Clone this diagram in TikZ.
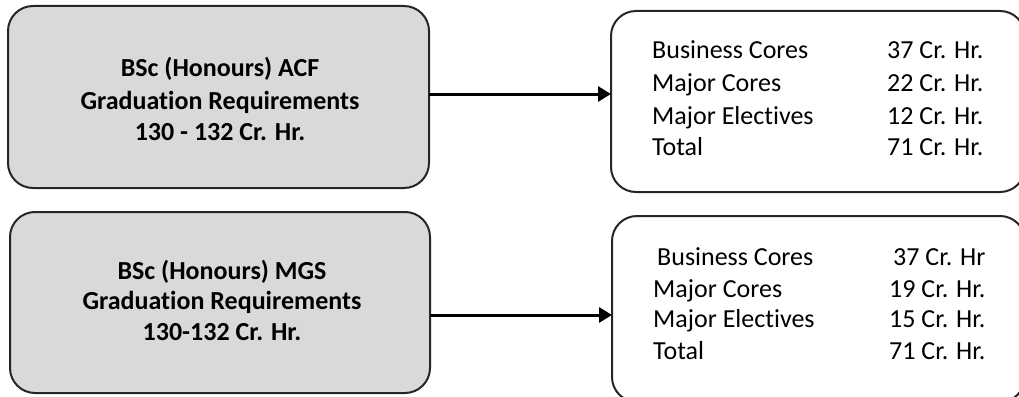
\documentclass[tikz,border=0pt]{standalone}
\usepackage{fontspec}
\setmainfont{Carlito}[Ligatures=NoCommon]
\usetikzlibrary{arrows.meta}
\definecolor{boxgray}{HTML}{D9D9D9}
\definecolor{edge}{HTML}{262626}
\tikzset{
  titlebox/.style={draw=edge, line width=2pt, fill=boxgray, rounded corners=25pt, inner sep=0pt, outer sep=0pt},
  listbox/.style={draw=edge, line width=2pt, fill=white, rounded corners=25pt, inner sep=0pt, outer sep=0pt},
  titletext/.style={font=\fontsize{26pt}{31.5pt}\selectfont\bfseries, align=center, inner sep=0pt, anchor=base},
  item/.style={font=\fontsize{26pt}{31pt}\selectfont, inner sep=0pt, anchor=base west},
  arr/.style={line width=3pt, draw=black, -{Triangle[length=13pt,width=15pt]}}
}
\begin{document}
\begin{tikzpicture}[x=1pt,y=-1pt]
\useasboundingbox (0,0) rectangle (1019,396);
\clip (0,0) rectangle (1019,396);
% boxes
\draw[titlebox] (8,6) rectangle (429,188);
\node[inner sep=0pt, outer sep=0pt, minimum width=421pt, minimum height=182pt] (A) at (218.5,97) {};
\draw[listbox] (611,11) rectangle (1025,192);
\node[inner sep=0pt, outer sep=0pt, minimum width=414pt, minimum height=181pt] (B) at (818,101.5) {};
\draw[titlebox] (10,212) rectangle (430,393);
\node[inner sep=0pt, outer sep=0pt, minimum width=420pt, minimum height=181pt] (C) at (220,302.5) {};
\draw[listbox] (612,216) rectangle (1025,402);
\node[inner sep=0pt, outer sep=0pt, minimum width=413pt, minimum height=186pt] (D) at (818.5,309) {};
% titles
\node[titletext] (a1) at (220,77) {BSc (Honours) ACF};
\node[titletext] (a2) at (220,109) {Graduation Requirements};
\node[titletext] (a3) at (220,140) {130 - 132 Cr. Hr.};
\node[titletext] (c1) at (222,279) {BSc (Honours) MGS};
\node[titletext] (c2) at (222,309.5) {Graduation Requirements};
\node[titletext] (c3) at (222,340) {130-132 Cr. Hr.};
% top list
\node[item] (b1) at (652,58.5) {Business Cores};
\node[item] (b2) at (652,91.5) {Major Cores};
\node[item] (b3) at (652,124) {Major Electives};
\node[item] (b4) at (652,155) {Total};
\node[item] (v1) at (887,58.5) {37 Cr. Hr.};
\node[item] (v2) at (887,91.5) {22 Cr. Hr.};
\node[item] (v3) at (887,124) {12 Cr. Hr.};
\node[item] (v4) at (887,155) {71 Cr. Hr.};
% bottom list
\node[item] (d1) at (657,265) {Business Cores};
\node[item] (d2) at (653,297) {Major Cores};
\node[item] (d3) at (653,327.5) {Major Electives};
\node[item] (d4) at (653,359) {Total};
\node[item] (w1) at (893,265) {37 Cr. Hr};
\node[item] (w2) at (889,297) {19 Cr. Hr.};
\node[item] (w3) at (889,327.5) {15 Cr. Hr.};
\node[item] (w4) at (889,359) {71 Cr. Hr.};
% arrows
\draw[arr] ([yshift=3pt]A.east) -- ([yshift=7.5pt]B.west);
\draw[arr] ([yshift=-12.5pt]C.east) -- ([yshift=-6pt]D.west);
\end{tikzpicture}
\end{document}
